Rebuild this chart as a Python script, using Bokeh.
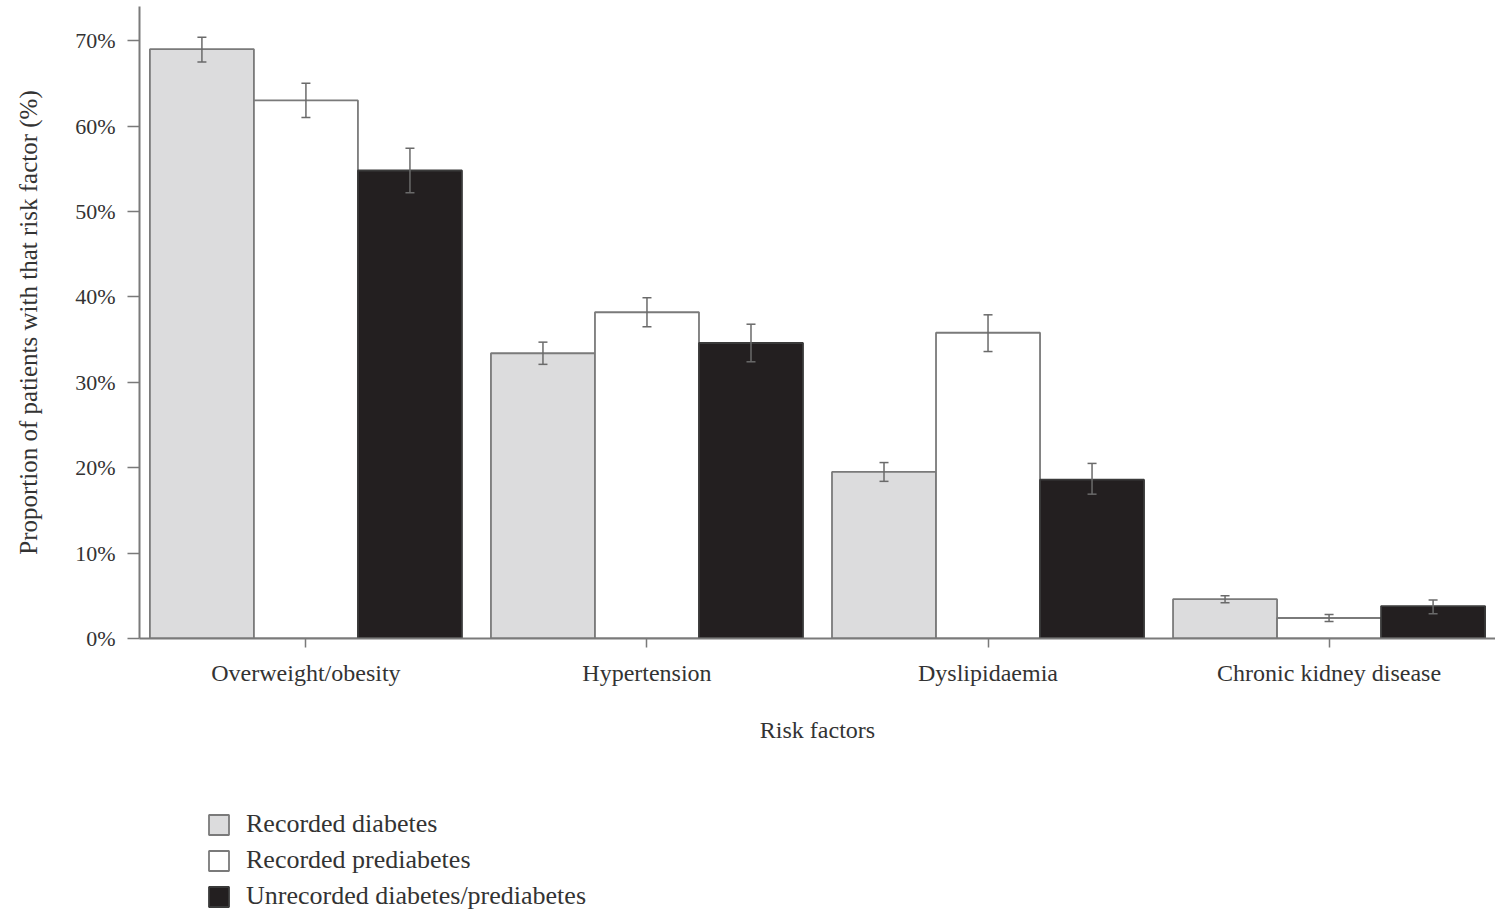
from bokeh.plotting import figure
from bokeh.layouts import column
from bokeh.models import (ColumnDataSource, FactorRange, Range1d, Whisker, TeeHead,
                          Legend, LegendItem, PrintfTickFormatter, FixedTicker)
from bokeh.transform import dodge
from bokeh.embed import file_html
from bokeh.resources import INLINE

# Risk factor categories and the three patient groups
risk_factors = ["Overweight/obesity", "Hypertension", "Dyslipidaemia", "Chronic kidney disease"]
group_names = ["Recorded diabetes", "Recorded prediabetes", "Unrecorded diabetes/prediabetes"]

# Proportion (%) with each risk factor, with 95% confidence limits
recorded_diabetes = [69.0, 33.4, 19.5, 4.6]
recorded_diabetes_lo = [67.5, 32.1, 18.4, 4.2]
recorded_diabetes_hi = [70.4, 34.7, 20.6, 5.0]

recorded_prediabetes = [63.0, 38.2, 35.8, 2.4]
recorded_prediabetes_lo = [61.0, 36.5, 33.6, 2.0]
recorded_prediabetes_hi = [65.0, 39.9, 37.9, 2.8]

unrecorded = [54.8, 34.6, 18.6, 3.8]
unrecorded_lo = [52.2, 32.4, 16.9, 2.9]
unrecorded_hi = [57.4, 36.8, 20.5, 4.5]

y_ticks = [0, 10, 20, 30, 40, 50, 60, 70]

SERIF = "Liberation Serif"
TEXT = "#333333"
AXIS = "#7a7a7a"

styles = [
    # (values, lower, upper, dodge offset, fill, outline)
    (recorded_diabetes, recorded_diabetes_lo, recorded_diabetes_hi, -0.305, "#dcdcdd", "#7a7a7a"),
    (recorded_prediabetes, recorded_prediabetes_lo, recorded_prediabetes_hi, 0.0, "#ffffff", "#7a7a7a"),
    (unrecorded, unrecorded_lo, unrecorded_hi, 0.305, "#231f20", "#3a3a3a"),
]

# ---- main bar chart ----
p = figure(
    width=1495, height=770,
    x_range=FactorRange(factors=risk_factors, range_padding=-0.012, range_padding_units="absolute"),
    y_range=Range1d(0, 74),
    min_border_left=139, min_border_right=0, min_border_top=6, min_border_bottom=132,
    toolbar_location=None, output_backend="svg",
)
p.outline_line_color = None
p.xgrid.visible = False
p.ygrid.visible = False

for vals, lo, hi, off, fill, edge in styles:
    src = ColumnDataSource(dict(cat=risk_factors, val=vals, lo=lo, hi=hi))
    p.vbar(x=dodge("cat", off, range=p.x_range), top="val", width=0.305, source=src,
           fill_color=fill, line_color=edge, line_width=1.8)
    w = Whisker(base=dodge("cat", off, range=p.x_range), upper="hi", lower="lo", source=src,
                line_color="#6a6a6a", line_width=1.5,
                upper_head=TeeHead(size=9, line_color="#6a6a6a", line_width=1.5),
                lower_head=TeeHead(size=9, line_color="#6a6a6a", line_width=1.5))
    w.level = "annotation"
    p.add_layout(w)

# x axis
p.xaxis.axis_label = "Risk factors"
p.xaxis.axis_label_text_font = SERIF
p.xaxis.axis_label_text_font_size = "24px"
p.xaxis.axis_label_text_font_style = "normal"
p.xaxis.axis_label_text_color = TEXT
p.xaxis.axis_label_standoff = 28
p.xaxis.major_label_text_font = SERIF
p.xaxis.major_label_text_font_size = "24px"
p.xaxis.major_label_text_color = TEXT
p.xaxis.major_label_standoff = 12
p.xaxis.major_tick_out = 9
p.xaxis.major_tick_in = 0
p.xaxis.axis_line_color = AXIS
p.xaxis.axis_line_width = 2
p.xaxis.major_tick_line_color = AXIS
p.xaxis.major_tick_line_width = 1.5

# y axis
p.yaxis.ticker = FixedTicker(ticks=y_ticks)
p.yaxis.formatter = PrintfTickFormatter(format="%d%%")
p.yaxis.axis_label = "Proportion of patients with that risk factor (%)"
p.yaxis.axis_label_text_font = SERIF
p.yaxis.axis_label_text_font_size = "25px"
p.yaxis.axis_label_text_font_style = "normal"
p.yaxis.axis_label_text_color = TEXT
p.yaxis.axis_label_standoff = 30
p.yaxis.major_label_text_font = SERIF
p.yaxis.major_label_text_font_size = "22px"
p.yaxis.major_label_text_color = TEXT
p.yaxis.major_label_standoff = 12
p.yaxis.major_tick_out = 12
p.yaxis.major_tick_in = 0
p.yaxis.minor_tick_line_color = None
p.yaxis.axis_line_color = AXIS
p.yaxis.axis_line_width = 2
p.yaxis.major_tick_line_color = AXIS
p.yaxis.major_tick_line_width = 1.5

# ---- legend strip under the chart (its frame lines up with the chart's frame) ----
lg = figure(
    width=1495, height=145, x_range=(0, 1), y_range=(0, 1),
    min_border_left=139, min_border_right=0, min_border_top=0, min_border_bottom=0,
    x_axis_location=None, y_axis_location=None,
    toolbar_location=None, output_backend="svg",
)
lg.outline_line_color = None
lg.xgrid.visible = False
lg.ygrid.visible = False

items = []
for name, (vals, lo, hi, off, fill, edge) in zip(group_names, styles):
    # swatch renderers sit outside the visible range; only their legend glyphs show
    r = lg.rect(x=[-5], y=[-5], width=0.1, height=0.1,
                fill_color=fill, line_color=edge, line_width=1.8)
    items.append(LegendItem(label=name, renderers=[r]))

legend = Legend(items=items, location=(67, 4), padding=0, margin=0, spacing=6,
                glyph_width=25, glyph_height=25, label_height=25, label_standoff=15,
                label_text_font=SERIF, label_text_font_size="26px", label_text_color=TEXT,
                label_text_baseline="middle",
                border_line_color=None, background_fill_alpha=0)
lg.add_layout(legend)

layout = column(p, lg, spacing=0)

open("out.html", "w").write(file_html(layout, INLINE))
